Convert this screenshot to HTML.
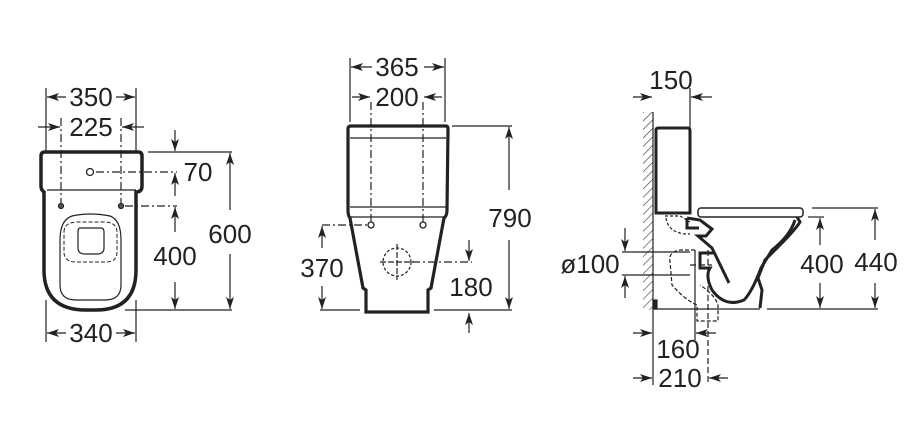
<!DOCTYPE html>
<html><head><meta charset="utf-8"><style>
html,body{margin:0;padding:0;background:#fff;}
svg{display:block;}
text{font-family:"Liberation Sans",sans-serif;font-size:26px;fill:#222;}
</style></head><body>
<svg width="924" height="433" viewBox="0 0 924 433" xmlns="http://www.w3.org/2000/svg">
<defs>
<marker id="a" viewBox="0 0 12 8" refX="12" refY="4" markerWidth="13" markerHeight="8" markerUnits="userSpaceOnUse" orient="auto">
<path d="M0,0 L12,4 L0,8 L3,4 Z" fill="#222"/></marker>
<pattern id="h" width="6" height="6" patternUnits="userSpaceOnUse" patternTransform="rotate(45)">
<line x1="0" y1="0" x2="0" y2="6" stroke="#333" stroke-width="1.2"/></pattern>
</defs>
<g stroke="#222" fill="none" stroke-width="1.2">
<!-- LEFT VIEW -->
<line x1="46" y1="88" x2="46" y2="152"/><line x1="136" y1="88" x2="136" y2="152"/>
<line x1="66" y1="97" x2="47" y2="97" marker-end="url(#a)"/><line x1="116" y1="97" x2="135" y2="97" marker-end="url(#a)"/>
<line x1="38" y1="127" x2="60" y2="127" marker-end="url(#a)"/><line x1="144" y1="127" x2="122" y2="127" marker-end="url(#a)"/>
<g stroke-dasharray="8,3,2,3"><line x1="61" y1="118" x2="61" y2="206"/><line x1="121" y1="118" x2="121" y2="206"/>
<line x1="96" y1="172" x2="177" y2="172"/><line x1="125" y1="206" x2="177" y2="206"/></g>
<path d="M41,156 Q41,152 45,152 L138,152 Q142,152 142,156 L142,186 Q142,192 136,192 L136,270 Q136,310 96,310 L86,310 Q44,310 44,270 L44,192 Q41,190 41,186 Z" stroke-width="3.5"/>
<path d="M47,190 L136,190" stroke-width="1.2"/>
<circle cx="90" cy="172" r="3.5" stroke-width="1.3"/>
<circle cx="61" cy="206" r="2.5" fill="#555"/><circle cx="121" cy="206" r="2.5" fill="#555"/>
<path d="M72,216 Q90,212 110,216 Q121,220 121,240 L121,285 Q121,300 105,300 L76,300 Q60,300 60,285 L60,240 Q60,220 72,216 Z" stroke-width="1.2"/>
<path d="M64,232 Q64,222 78,222 L104,222 Q117,222 117,232 L117,252 Q117,262 106,262 L76,262 Q64,262 64,252 Z" stroke-dasharray="4,2" stroke-width="1"/>
<path d="M80,228 L101,228 Q104,228 104,232 L104,248 Q104,254 97,254 L85,254 Q78,254 78,248 L78,232 Q78,228 80,228 Z" stroke-width="1.2"/>
<line x1="148" y1="152" x2="232" y2="152"/><line x1="125" y1="310" x2="232" y2="310"/>
<line x1="175" y1="130" x2="175" y2="151" marker-end="url(#a)"/><line x1="175" y1="196" x2="175" y2="173" marker-end="url(#a)"/>
<line x1="175" y1="232" x2="175" y2="207" marker-end="url(#a)"/><line x1="175" y1="282" x2="175" y2="309" marker-end="url(#a)"/>
<line x1="230" y1="210" x2="230" y2="153" marker-end="url(#a)"/><line x1="230" y1="254" x2="230" y2="309" marker-end="url(#a)"/>
<line x1="46" y1="300" x2="46" y2="342"/><line x1="136" y1="300" x2="136" y2="342"/>
<line x1="66" y1="333" x2="47" y2="333" marker-end="url(#a)"/><line x1="116" y1="333" x2="135" y2="333" marker-end="url(#a)"/>
<!-- MIDDLE VIEW -->
<line x1="350" y1="58" x2="350" y2="122"/><line x1="445" y1="58" x2="445" y2="122"/>
<line x1="372" y1="67" x2="351" y2="67" marker-end="url(#a)"/><line x1="424" y1="67" x2="444" y2="67" marker-end="url(#a)"/>
<line x1="352" y1="97" x2="370" y2="97" marker-end="url(#a)"/><line x1="442" y1="97" x2="424" y2="97" marker-end="url(#a)"/>
<g stroke-dasharray="8,3,2,3"><line x1="371" y1="102" x2="371" y2="225"/><line x1="423" y1="102" x2="423" y2="225"/>
<line x1="322" y1="225" x2="368" y2="225"/><line x1="412" y1="262" x2="472" y2="262"/></g>
<path d="M351,126 L446,126 Q448,126 448,129 L447,210 Q447,216 444,218 L431,288 L428,290 L428,312 L366,312 L366,290 L363,288 L350,218 Q348,216 348,210 L348,129 Q348,126 351,126 Z" stroke-width="3.2"/>
<line x1="350" y1="138" x2="446" y2="138" stroke-width="1.3"/><line x1="350" y1="207" x2="446" y2="207" stroke-width="1.3"/><line x1="350" y1="217" x2="446" y2="217" stroke-width="1.3"/>
<circle cx="371" cy="225" r="3" stroke-width="1.3"/><circle cx="423" cy="225" r="3" stroke-width="1.3"/>
<circle cx="397" cy="262" r="14" stroke-dasharray="3,2" stroke-width="1.2"/>
<line x1="397" y1="244" x2="397" y2="280" stroke-dasharray="6,2"/><line x1="380" y1="262" x2="414" y2="262" stroke-dasharray="6,2"/>
<line x1="452" y1="126" x2="512" y2="126"/><line x1="434" y1="310" x2="512" y2="310"/><line x1="320" y1="310" x2="360" y2="310"/>
<line x1="509" y1="190" x2="509" y2="127" marker-end="url(#a)"/><line x1="509" y1="240" x2="509" y2="309" marker-end="url(#a)"/>
<line x1="322" y1="248" x2="322" y2="226" marker-end="url(#a)"/><line x1="322" y1="286" x2="322" y2="309" marker-end="url(#a)"/>
<line x1="469" y1="240" x2="469" y2="261" marker-end="url(#a)"/><line x1="469" y1="333" x2="469" y2="313" marker-end="url(#a)"/>
<!-- RIGHT VIEW -->
<rect x="643" y="112" width="10" height="198" fill="url(#h)" stroke="none"/>
<line x1="653" y1="112" x2="653" y2="385" stroke-width="1.2"/>
<line x1="633" y1="97" x2="652" y2="97" marker-end="url(#a)"/><line x1="712" y1="97" x2="691" y2="97" marker-end="url(#a)"/>
<line x1="690" y1="88" x2="690" y2="127"/>
<path d="M656,130 Q656,128 659,128 L688,128 Q690,128 690,131 L690,213 L656,213 Z" stroke-width="3"/>
<path d="M665,216 L680,216 L690,222 M666,218 Q668,232 685,234 L690,234" stroke-dasharray="3,2"/>
<rect x="698" y="208" width="105" height="9" rx="3" stroke-width="1.5"/>
<path d="M687,218 L700,220 L712,229 L706,236 L698,236 L712,248 L729,283" stroke-width="3"/>
<path d="M687,218 L687,228 L699,228" stroke-width="3"/>
<path d="M797,217 L800,222 Q795,230 780,245 L765,260 L758,278 L762,290 L760,308" stroke-width="3"/>
<path d="M795,220 Q790,236 772,250 L761,268 Q752,292 744,300 Q725,308 712,290 Q705,276 710,268 L700,268 L700,253 L715,253" stroke-width="3"/>
<line x1="653" y1="309" x2="760" y2="309" stroke-width="1.3"/>
<rect x="653" y="300" width="4" height="9" fill="#222"/>
<path d="M695,250 L680,250 Q668,252 670,262 L672,285 Q685,300 697,305 L697,321 L718,321 L718,305 Q715,295 700,285" stroke-dasharray="4,2"/>
<line x1="695" y1="250" x2="695" y2="340"/>
<line x1="708" y1="250" x2="708" y2="385" stroke-dasharray="6,3"/>
<line x1="690" y1="265" x2="712" y2="265" stroke-dasharray="6,3"/>
<line x1="622" y1="252" x2="690" y2="252"/><line x1="622" y1="275" x2="690" y2="275"/>
<line x1="625" y1="228" x2="625" y2="251" marker-end="url(#a)"/><line x1="625" y1="298" x2="625" y2="276" marker-end="url(#a)"/>
<line x1="633" y1="333" x2="652" y2="333" marker-end="url(#a)"/><line x1="716" y1="333" x2="696" y2="333" marker-end="url(#a)"/>
<line x1="633" y1="378" x2="652" y2="378" marker-end="url(#a)"/><line x1="728" y1="378" x2="709" y2="378" marker-end="url(#a)"/>
<line x1="812" y1="208" x2="878" y2="208"/><line x1="808" y1="217" x2="824" y2="217"/><line x1="767" y1="309" x2="878" y2="309"/>
<line x1="820" y1="245" x2="820" y2="218" marker-end="url(#a)"/><line x1="820" y1="283" x2="820" y2="308" marker-end="url(#a)"/>
<line x1="875" y1="240" x2="875" y2="209" marker-end="url(#a)"/><line x1="875" y1="283" x2="875" y2="308" marker-end="url(#a)"/>
</g>
<g text-anchor="middle">
<text x="91" y="106">350</text><text x="91" y="136">225</text>
<text x="198" y="181">70</text><text x="175" y="265">400</text><text x="230" y="243">600</text>
<text x="91" y="342">340</text>
<text x="397" y="76">365</text><text x="397" y="106">200</text>
<text x="510" y="227">790</text><text x="322" y="277">370</text><text x="471" y="296">180</text>
<text x="671" y="89">150</text><text x="590" y="273">ø100</text>
<text x="822" y="273">400</text><text x="876" y="271">440</text>
<text x="678" y="358">160</text><text x="680" y="387">210</text>
</g>
</svg>
</body></html>
